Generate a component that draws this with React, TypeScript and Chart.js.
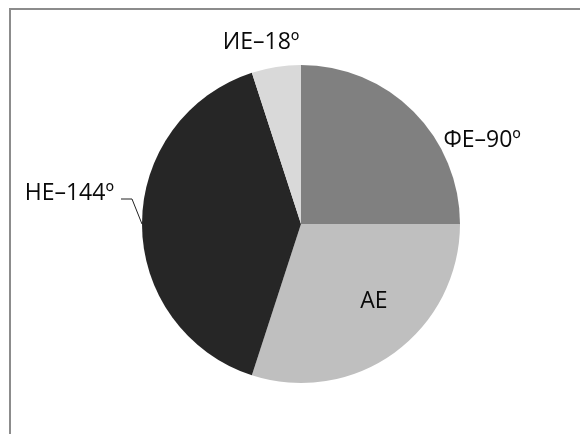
import React, { useEffect, useRef } from "react";
import { Chart, registerables } from "chart.js";

Chart.register(...registerables);

const categories = ["ФЕ", "АЕ", "НЕ", "ИЕ"];
const degrees = [90, 108, 144, 18];
const showValue = [true, false, true, true];
const colors = ["#808080", "#bfbfbf", "#262626", "#d9d9d9"];

const FONT = "'Open Sans', sans-serif";

const labelPlugin = {
  id: "sliceLabels",
  afterDatasetsDraw(chart: any) {
    const ctx = chart.ctx;
    const meta = chart.getDatasetMeta(0);
    ctx.save();
    ctx.font = `23px ${FONT}`;
    ctx.fillStyle = "#0a0a0a";
    ctx.textBaseline = "middle";
    meta.data.forEach((arc: any, i: number) => {
      const { x, y, startAngle, endAngle, outerRadius } = arc.getProps(
        ["x", "y", "startAngle", "endAngle", "outerRadius"],
        true
      );
      const mid = (startAngle + endAngle) / 2;
      const cos = Math.cos(mid);
      const sin = Math.sin(mid);
      const text = showValue[i] ? `${categories[i]}–${degrees[i]}º` : categories[i];
      if (!showValue[i]) {
        ctx.textAlign = "center";
        ctx.fillText(text, x + cos * outerRadius * 0.78, y + sin * outerRadius * 0.6);
        return;
      }
      if (Math.abs(cos) > 0.9) {
        // leader line on the side
        const ax = x + cos * outerRadius;
        const ay = y + sin * outerRadius;
        const ex = ax + Math.sign(cos) * 10;
        const ey = ay - 25;
        ctx.strokeStyle = "#222";
        ctx.lineWidth = 1;
        ctx.beginPath();
        ctx.moveTo(ax, ay);
        ctx.lineTo(ex, ey);
        ctx.lineTo(ex + Math.sign(cos) * 11, ey);
        ctx.stroke();
        ctx.textAlign = cos < 0 ? "right" : "left";
        ctx.fillText(text, ex + Math.sign(cos) * 18, ey - 6);
      } else if (sin < -0.9) {
        ctx.textAlign = "center";
        ctx.fillText(text, x + cos * outerRadius - 15, y + sin * outerRadius - 25);
      } else {
        ctx.textAlign = "left";
        ctx.fillText(text, x + cos * outerRadius + 30, y + sin * outerRadius + 29);
      }
    });
    ctx.restore();
  },
};

const framePlugin = {
  id: "frame",
  beforeDraw(chart: any) {
    const ctx = chart.ctx;
    ctx.save();
    ctx.fillStyle = "#ffffff";
    ctx.fillRect(0, 0, chart.width, chart.height);
    ctx.strokeStyle = "#8c8c8c";
    ctx.lineWidth = 2;
    ctx.beginPath();
    ctx.moveTo(10, chart.height + 2);
    ctx.lineTo(10, 9);
    ctx.lineTo(chart.width + 2, 9);
    ctx.stroke();
    ctx.restore();
  },
};

export default function App() {
  const ref = useRef<HTMLCanvasElement>(null);
  useEffect(() => {
    if (!ref.current) return;
    const chart = new Chart(ref.current, {
      type: "pie",
      data: {
        labels: categories,
        datasets: [
          {
            data: degrees,
            backgroundColor: colors,
            borderWidth: 0,
          },
        ],
      },
      options: {
        responsive: false,
        animation: false,
        layout: { padding: { left: 142, right: 120, top: 65, bottom: 51 } },
        plugins: {
          legend: { display: false },
          tooltip: { enabled: false },
        },
      },
      plugins: [framePlugin, labelPlugin],
    });
    return () => chart.destroy();
  }, []);
  return (
    <div style={{ position: "fixed", left: 0, top: 0, width: 580, height: 434 }}>
      <canvas ref={ref} width={580} height={434} />
    </div>
  );
}
